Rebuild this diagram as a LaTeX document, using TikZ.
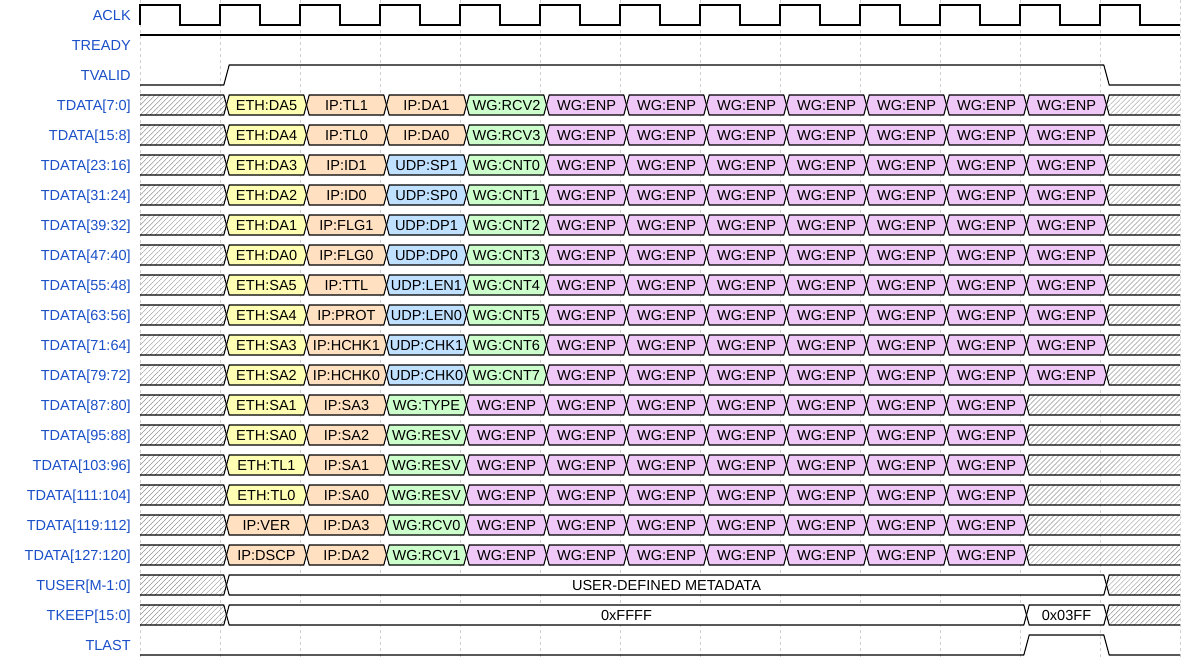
\documentclass[tikz,border=0pt]{standalone}
\usepackage{fontspec}
\setmainfont{Liberation Sans}
\usetikzlibrary{patterns.meta}
\definecolor{lab}{HTML}{1A4FC8}
\definecolor{cE}{HTML}{FFFFB3}
\definecolor{cI}{HTML}{FFE0C0}
\definecolor{cU}{HTML}{C0E0FF}
\definecolor{cW}{HTML}{CCFFCC}
\definecolor{cP}{HTML}{F0C8F8}
\definecolor{gridc}{HTML}{D0D0D0}
\tikzset{
  sig/.style={line width=0.8pt,draw=black,line join=miter},
  hatch/.style={pattern={Lines[angle=45,distance=2.65pt,line width=0.35pt]},pattern color=gray!85},
  ctext/.style={anchor=base,inner sep=0pt,text=black,font=\fontsize{10.9}{12}\selectfont},
  lbl/.style={anchor=base east,inner sep=0pt,text=lab,font=\fontsize{10.9}{12}\selectfont},
  gridl/.style={draw=gridc,line width=0.5pt,dash pattern=on 2.25pt off 2.25pt}
}
% segment from x1 to x2 at row centre yc
\newcommand\seg[5]{%
  \filldraw[sig,fill=#4] (#1,#3) -- (#1+2.7,#3-10) -- (#2-2.7,#3-10) -- (#2,#3) -- (#2-2.7,#3+10) -- (#1+2.7,#3+10) -- cycle;
  \node[ctext] at ({(#1+#2)/2},#3+5.2) {#5};}
\newcommand\cyc[4]{\pgfmathsetmacro\xa{146.5+80*#1}\pgfmathsetmacro\xb{226.5+80*#1}\seg{\xa}{\xb}{#2}{#3}{#4}}
\newcommand\hatchL[2]{%
  \fill[hatch] (140,#2-10) -- (#1-2.7,#2-10) -- (#1,#2) -- (#1-2.7,#2+10) -- (140,#2+10) -- cycle;
  \draw[sig] (140,#2-10) -- (#1-2.7,#2-10) -- (#1,#2) -- (#1-2.7,#2+10) -- (140,#2+10);}
\newcommand\hatchR[2]{%
  \fill[hatch] (1180,#2-10) -- (#1+2.7,#2-10) -- (#1,#2) -- (#1+2.7,#2+10) -- (1180,#2+10) -- cycle;
  \draw[sig] (1180,#2-10) -- (#1+2.7,#2-10) -- (#1,#2) -- (#1+2.7,#2+10) -- (1180,#2+10);}
\newcommand\lbl[2]{\node[lbl] at (131,{15+30*#1+5.2}) {#2};}
\newcommand\longrow[9]{\pgfmathsetmacro\yc{15+30*#1}%
  \hatchL{226.5}{\yc}%
  \cyc{1}{\yc}{#2}{#3}\cyc{2}{\yc}{#4}{#5}\cyc{3}{\yc}{#6}{#7}\cyc{4}{\yc}{#8}{#9}%
  \foreach \k in {5,...,11}{\cyc{\k}{\yc}{cP}{WG:ENP}}%
  \hatchR{1106.5}{\yc}}
\newcommand\shortrow[7]{\pgfmathsetmacro\yc{15+30*#1}%
  \hatchL{226.5}{\yc}%
  \cyc{1}{\yc}{#2}{#3}\cyc{2}{\yc}{#4}{#5}\cyc{3}{\yc}{#6}{#7}%
  \foreach \k in {4,...,10}{\cyc{\k}{\yc}{cP}{WG:ENP}}%
  \hatchR{1026.5}{\yc}}
\begin{document}
\begin{tikzpicture}[x=0.75pt,y=-0.75pt]
\useasboundingbox (0,0) rectangle (1200,660);
% grid
\foreach \k in {0,...,13} \draw[gridl] (140+80*\k,0) -- (140+80*\k,660);
% labels
\lbl{0}{ACLK}
\lbl{1}{TREADY}
\lbl{2}{TVALID}
\lbl{3}{TDATA[7:0]}
\lbl{4}{TDATA[15:8]}
\lbl{5}{TDATA[23:16]}
\lbl{6}{TDATA[31:24]}
\lbl{7}{TDATA[39:32]}
\lbl{8}{TDATA[47:40]}
\lbl{9}{TDATA[55:48]}
\lbl{10}{TDATA[63:56]}
\lbl{11}{TDATA[71:64]}
\lbl{12}{TDATA[79:72]}
\lbl{13}{TDATA[87:80]}
\lbl{14}{TDATA[95:88]}
\lbl{15}{TDATA[103:96]}
\lbl{16}{TDATA[111:104]}
\lbl{17}{TDATA[119:112]}
\lbl{18}{TDATA[127:120]}
\lbl{19}{TUSER[M-1:0]}
\lbl{20}{TKEEP[15:0]}
\lbl{21}{TLAST}
% clock
\draw[sig] (140,25) \foreach \k in {0,...,12}{ -- (140+80*\k,5) -- (180+80*\k,5) -- (180+80*\k,25) -- (220+80*\k,25)};
% tready
\draw[sig] (140,35) -- (1180,35);
% tvalid
\draw[sig] (140,85) -- (223.8,85) -- (229.2,65) -- (1103.8,65) -- (1109.2,85) -- (1180,85);
% tdata
\longrow{3}{cE}{ETH:DA5}{cI}{IP:TL1}{cI}{IP:DA1}{cW}{WG:RCV2}
\longrow{4}{cE}{ETH:DA4}{cI}{IP:TL0}{cI}{IP:DA0}{cW}{WG:RCV3}
\longrow{5}{cE}{ETH:DA3}{cI}{IP:ID1}{cU}{UDP:SP1}{cW}{WG:CNT0}
\longrow{6}{cE}{ETH:DA2}{cI}{IP:ID0}{cU}{UDP:SP0}{cW}{WG:CNT1}
\longrow{7}{cE}{ETH:DA1}{cI}{IP:FLG1}{cU}{UDP:DP1}{cW}{WG:CNT2}
\longrow{8}{cE}{ETH:DA0}{cI}{IP:FLG0}{cU}{UDP:DP0}{cW}{WG:CNT3}
\longrow{9}{cE}{ETH:SA5}{cI}{IP:TTL}{cU}{UDP:LEN1}{cW}{WG:CNT4}
\longrow{10}{cE}{ETH:SA4}{cI}{IP:PROT}{cU}{UDP:LEN0}{cW}{WG:CNT5}
\longrow{11}{cE}{ETH:SA3}{cI}{IP:HCHK1}{cU}{UDP:CHK1}{cW}{WG:CNT6}
\longrow{12}{cE}{ETH:SA2}{cI}{IP:HCHK0}{cU}{UDP:CHK0}{cW}{WG:CNT7}
\shortrow{13}{cE}{ETH:SA1}{cI}{IP:SA3}{cW}{WG:TYPE}
\shortrow{14}{cE}{ETH:SA0}{cI}{IP:SA2}{cW}{WG:RESV}
\shortrow{15}{cE}{ETH:TL1}{cI}{IP:SA1}{cW}{WG:RESV}
\shortrow{16}{cE}{ETH:TL0}{cI}{IP:SA0}{cW}{WG:RESV}
\shortrow{17}{cI}{IP:VER}{cI}{IP:DA3}{cW}{WG:RCV0}
\shortrow{18}{cI}{IP:DSCP}{cI}{IP:DA2}{cW}{WG:RCV1}
% tuser
\hatchL{226.5}{585}
\seg{226.5}{1106.5}{585}{white}{USER-DEFINED METADATA}
\hatchR{1106.5}{585}
% tkeep
\hatchL{226.5}{615}
\seg{226.5}{1026.5}{615}{white}{0xFFFF}
\seg{1026.5}{1106.5}{615}{white}{0x03FF}
\hatchR{1106.5}{615}
% tlast
\draw[sig] (140,655) -- (1023.8,655) -- (1029.2,635) -- (1103.8,635) -- (1109.2,655) -- (1180,655);
\end{tikzpicture}
\end{document}
